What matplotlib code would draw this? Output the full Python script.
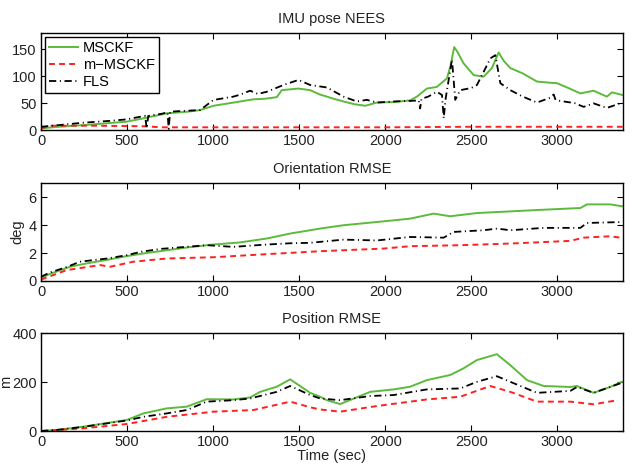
import matplotlib
matplotlib.use('Agg')
import matplotlib.pyplot as plt

plt.rcParams['font.family'] = ['Liberation Sans', 'DejaVu Sans']
plt.rcParams['font.size'] = 10

# colours / styles
green = '#5cba3c'
red = '#ff2020'

# IMU pose NEES
nees_msckf_t = [0, 100, 246, 400, 498, 595, 731, 850, 924, 1002, 1100, 1234, 1300, 1370, 1399, 1496, 1564, 1620, 1661, 1700,
                1758, 1820, 1884, 1952, 2050, 2145, 2184, 2242, 2300, 2359, 2380, 2401, 2420, 2455, 2514, 2572, 2620, 2659,
                2690, 2727, 2800, 2882, 2950, 2998, 3050, 3134, 3211, 3260, 3288, 3318, 3366, 3380]
nees_msckf = [3, 6, 9, 13, 15.5, 21.7, 31, 34, 37, 45, 50, 57, 58, 61, 74, 77, 74, 66, 62, 58,
              53, 48, 45, 51, 52, 55, 62, 77, 80, 96, 120, 154, 145, 124, 102, 99, 115, 144,
              128, 115, 105, 90, 88, 87, 80, 68, 73, 66, 62, 70, 66, 65]
nees_fls_t = [0, 100, 246, 400, 498, 579, 605, 614, 623, 653, 700, 735, 742, 750, 800, 924, 1002, 1118, 1160, 1215, 1260,
              1312, 1409, 1496, 1564, 1661, 1758, 1835, 1893, 1952, 2050, 2145, 2195, 2203, 2211, 2250, 2300, 2330, 2340,
              2352, 2388, 2407, 2436, 2500, 2533, 2572, 2611, 2640, 2669, 2727, 2800, 2882, 2959, 2979, 2990, 3017, 3100,
              3153, 3211, 3288, 3366, 3380]
nees_fls = [6, 9, 13.6, 17, 19.8, 24.8, 26, 3, 26, 27.9, 30, 33, 2, 34, 35, 37, 55.8, 62, 66, 73, 67,
            71, 83.6, 93, 83.6, 79, 62, 53, 56, 51, 53, 54, 55, 40, 58, 62, 71, 65, 21.7,
            60, 131, 56, 74, 78, 83.6, 108, 133, 139, 87, 74, 62, 51, 60, 66, 56, 54, 50,
            43, 49.5, 41, 49.5, 50]
nees_m_t = [0, 50, 300, 600, 700, 1000, 1500, 2000, 2500, 3000, 3380]
nees_m = [3, 8, 8, 7, 5, 5, 5, 5, 6, 6, 6]

# Orientation RMSE (deg)
ori_msckf_t = [0, 50, 169, 266, 400, 498, 595, 731, 850, 1002, 1150, 1312, 1450, 1564, 1622, 1758, 1952, 2145, 2281,
               2378, 2533, 2727, 2921, 3134, 3172, 3307, 3380]
ori_msckf = [0.2, 0.5, 1.02, 1.26, 1.55, 1.78, 1.97, 2.2, 2.4, 2.61, 2.75, 3.04, 3.4, 3.63, 3.75, 3.99, 4.22, 4.46, 4.82,
             4.63, 4.86, 4.98, 5.1, 5.22, 5.48, 5.48, 5.34]
ori_fls_t = [0, 50, 150, 226, 385, 500, 580, 700, 800, 965, 1118, 1300, 1450, 1564, 1622, 1758, 1952, 2145, 2340,
             2397, 2572, 2650, 2727, 2921, 3134, 3172, 3380]
ori_fls = [0.3, 0.6, 1.0, 1.38, 1.61, 1.85, 2.09, 2.3, 2.4, 2.56, 2.44, 2.6, 2.7, 2.73, 2.8, 2.96, 2.9, 3.15, 3.1,
           3.51, 3.63, 3.75, 3.63, 3.8, 3.8, 4.15, 4.22]
ori_m_t = [0, 149, 343, 401, 537, 731, 1002, 1312, 1564, 1622, 1991, 2145, 2436, 2727, 3076, 3153, 3307, 3380]
ori_m = [0.1, 0.78, 1.14, 1.02, 1.38, 1.61, 1.7, 1.92, 2.09, 2.13, 2.32, 2.49, 2.56, 2.68, 2.87, 3.1, 3.2, 3.08]

# Position RMSE (m)
pos_msckf_t = [0, 100, 246, 498, 595, 731, 847, 963, 1118, 1215, 1273, 1370, 1448, 1564, 1622, 1661, 1738, 1913, 2049,
               2145, 2242, 2378, 2455, 2533, 2649, 2727, 2824, 2921, 3076, 3114, 3211, 3307, 3375]
pos_msckf = [0, 5, 17.7, 45, 72, 92.5, 99.5, 130, 129, 137, 160, 181, 211, 156, 140, 126, 110, 160, 170,
             181, 208, 229, 256, 290, 314, 269, 208, 184, 180, 184, 156, 180, 201]
pos_fls_t = [0, 100, 246, 498, 595, 731, 847, 963, 1118, 1215, 1370, 1448, 1564, 1622, 1738, 1913, 2049, 2242, 2436,
             2533, 2649, 2727, 2882, 3076, 3114, 3211, 3307, 3375]
pos_fls = [0, 5, 17, 43, 58, 72, 85.7, 120, 126, 133, 160, 184, 147, 133, 126, 143, 147, 170, 174,
           201, 224, 201, 156, 164, 180, 156, 180, 197]
pos_m_t = [0, 100, 246, 498, 731, 1002, 1234, 1448, 1564, 1622, 1738, 1951, 2242, 2436, 2610, 2727, 2882, 3076, 3211,
           3350]
pos_m = [0, 4, 11, 28.6, 58, 79, 85.7, 120, 97, 88, 79, 102, 129, 140, 184, 160, 120, 120, 109, 126]

fig = plt.figure(figsize=(6.35, 4.66), dpi=100)
rects = [[0.0646, 0.721, 0.916, 0.208],
         [0.0646, 0.397, 0.916, 0.210],
         [0.0646, 0.0751, 0.916, 0.210]]
axes = [fig.add_axes(r) for r in rects]

panels = [
    (nees_msckf_t, nees_msckf, nees_m_t, nees_m, nees_fls_t, nees_fls, 'IMU pose NEES', 180, [0, 50, 100, 150]),
    (ori_msckf_t, ori_msckf, ori_m_t, ori_m, ori_fls_t, ori_fls, 'Orientation RMSE', 7, [0, 2, 4, 6]),
    (pos_msckf_t, pos_msckf, pos_m_t, pos_m, pos_fls_t, pos_fls, 'Position RMSE', 400, [0, 200, 400]),
]

for ax, (gt, gv, rt, rv, kt, kv, title, ymax, yt) in zip(axes, panels):
    ax.plot(gt, gv, color=green, lw=1.4, label='MSCKF')
    ax.plot(rt, rv, color=red, lw=1.4, ls=(0, (3, 2.2)), label='m\u2212MSCKF')
    ax.plot(kt, kv, color='black', lw=1.3, ls=(0, (4, 2, 0.6, 2)), label='FLS')
    ax.set_xlim(0, 3380)
    ax.set_ylim(0, ymax)
    ax.set_yticks(yt)
    ax.set_xticks([0, 500, 1000, 1500, 2000, 2500, 3000])
    ax.tick_params(direction='in', top=True, right=True, length=4, labelsize=10.5, pad=3,
                   labelcolor='#222222')
    ax.set_title(title, fontsize=10.5, pad=7, color='#222222')
    for s in ax.spines.values():
        s.set_linewidth(1.0)

leg = axes[0].legend(loc='upper left', fontsize=10.5, fancybox=False, edgecolor='black',
                     framealpha=1, borderaxespad=0.25, handlelength=2.0, labelspacing=0.2,
                     borderpad=0.3, handletextpad=0.3)
leg.get_frame().set_linewidth(1.0)

axes[1].set_ylabel('deg', fontsize=10.5, color='#222222')
axes[1].yaxis.set_label_coords(-0.028, 0.5)
axes[2].set_ylabel('m', fontsize=10.5, color='#222222')
axes[2].yaxis.set_label_coords(-0.048, 0.5)
axes[2].set_xlabel('Time (sec)', fontsize=10.5, labelpad=0, color='#222222')

fig.savefig('out.png', dpi=100)
